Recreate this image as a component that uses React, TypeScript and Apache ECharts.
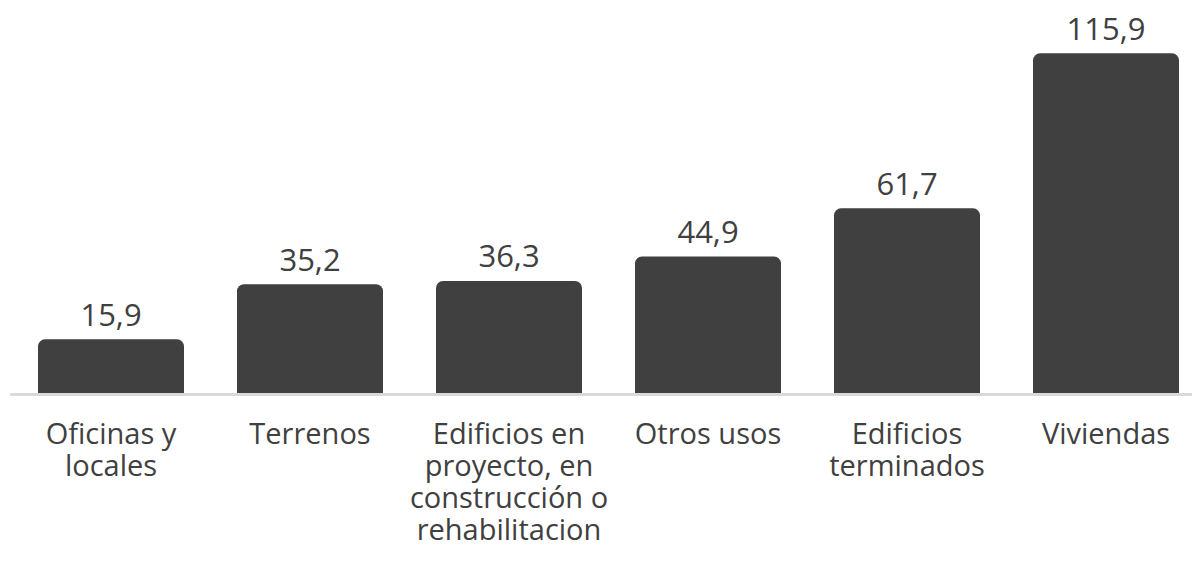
import React, { useEffect, useRef } from "react";
import * as echarts from "echarts";

const categories = [
  "Oficinas y\nlocales",
  "Terrenos",
  "Edificios en\nproyecto, en\nconstrucción o\nrehabilitacion",
  "Otros usos",
  "Edificios\nterminados",
  "Viviendas",
];
const values = [15.9, 35.2, 36.3, 44.9, 61.7, 115.9];

const FONT = "Tahoma, 'Open Sans', sans-serif";

export default function App() {
  const ref = useRef<HTMLDivElement>(null);
  useEffect(() => {
    if (!ref.current) return;
    const chart = echarts.init(ref.current, null, { renderer: "svg" });
    chart.setOption({
      animation: false,
      grid: { left: 11.5, width: 1194, top: 13, bottom: 166.5, containLabel: false },
      xAxis: {
        type: "category",
        data: categories,
        axisLine: { show: true, onZero: false, lineStyle: { color: "#d9d9d9", width: 3 } },
        axisTick: { show: false },
        axisLabel: {
          interval: 0,
          margin: 22,
          color: "#404040",
          fontFamily: FONT,
          fontSize: 29,
          lineHeight: 32,
          align: "center",
        },
        z: 10,
      },
      yAxis: {
        type: "value",
        min: -3.39,
        max: 130,
        startValue: -3.39,
        show: false,
        splitLine: { show: false },
      },
      series: [
        {
          type: "bar",
          data: values,
          barWidth: 146,
          itemStyle: { color: "#404040", borderRadius: [7, 7, 0, 0] },
          label: {
            show: true,
            position: "top",
            distance: 10,
            color: "#404040",
            fontFamily: FONT,
            fontSize: 31,
            formatter: (p: any) => String(p.value).replace(".", ","),
          },
        },
      ],
    });
    return () => chart.dispose();
  }, []);
  return (
    <div
      style={{
        position: "fixed",
        left: 0,
        top: 0,
        width: 1192,
        height: 561,
        overflow: "hidden",
        background: "#fff",
      }}
    >
      <div ref={ref} style={{ width: 1220, height: 561 }} />
    </div>
  );
}
